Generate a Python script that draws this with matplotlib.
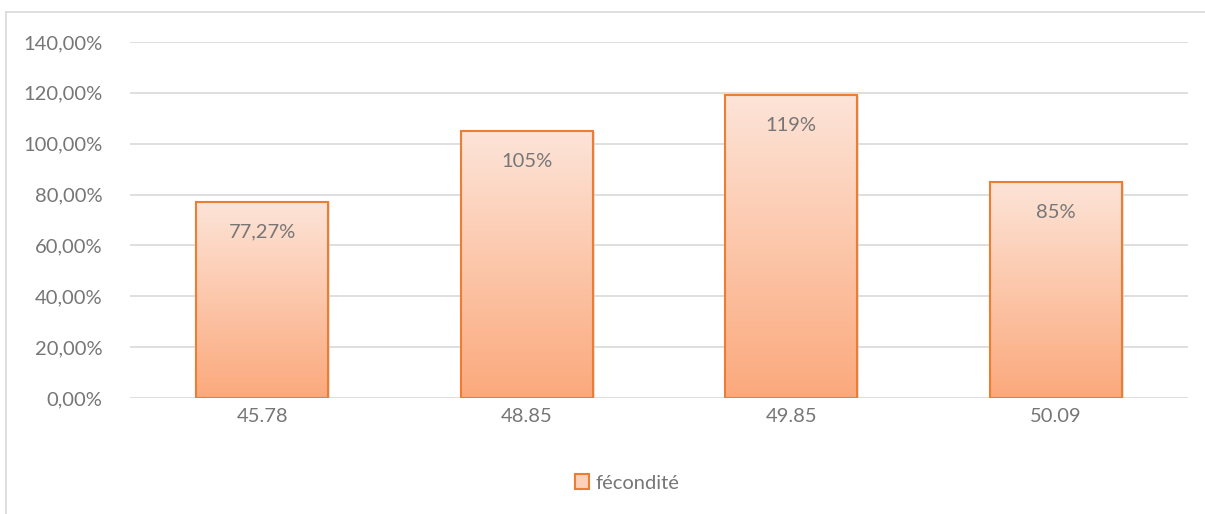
import numpy as np
import matplotlib
matplotlib.use("Agg")
from matplotlib import pyplot as plt
from matplotlib.patches import Rectangle, Patch
from matplotlib.colors import LinearSegmentedColormap
from matplotlib.ticker import FuncFormatter
from matplotlib.lines import Line2D

categories = ["45.78", "48.85", "49.85", "50.09"]
values = [0.7727, 1.05, 1.19, 0.85]
value_labels = ["77,27%", "105%", "119%", "85%"]
series_name = "fécondité"

plt.rcParams['font.family'] = ['Lato', 'DejaVu Sans']
grey = "#767676"
edge = "#ED7D31"
cmap = LinearSegmentedColormap.from_list("peach", ["#FBA97C", "#FDE4D8"])
fs = 14.5

W, H = 1205, 514
fig = plt.figure(figsize=(W / 100, H / 100), dpi=100)
ax = fig.add_axes([130 / W, 1 - 398 / H, (1188 - 130) / W, (398 - 42) / H])

x = np.arange(len(categories))
bw = 0.5
ax.set_xlim(-0.5, len(categories) - 0.5)
ax.set_ylim(0, 1.4)
ax.set_yticks(np.arange(0, 1.41, 0.2))
ax.yaxis.set_major_formatter(FuncFormatter(lambda v, p: f"{v*100:.2f}%".replace(".", ",")))
ax.grid(axis="y", color="#D9D9D9", linewidth=1.2)
ax.set_axisbelow(True)
for s in ax.spines.values():
    s.set_visible(False)
ax.tick_params(length=0, labelsize=fs, colors=grey, pad=20)
ax.set_xticks(x)
ax.set_xticklabels(categories)
ax.tick_params(axis="x", pad=7)

grad = np.linspace(0, 1, 256).reshape(-1, 1)
for xi, v, lab in zip(x, values, value_labels):
    # soft shadow
    ax.add_patch(Rectangle((xi - bw / 2 + 0.008, -0.004), bw, v, facecolor="#D0D0D0",
                           edgecolor="none", alpha=0.6, zorder=2))
    im = ax.imshow(grad, cmap=cmap, aspect="auto", origin="lower",
                   extent=(xi - bw / 2, xi + bw / 2, 0, v), zorder=3)
    r = Rectangle((xi - bw / 2, 0), bw, v, facecolor="none", edgecolor=edge,
                  linewidth=1.5, zorder=4)
    ax.add_patch(r)
    im.set_clip_path(r)
    ax.text(xi, v - 0.12, lab, ha="center", va="center", fontsize=fs, color=grey, zorder=5)

handle = Patch(facecolor="#FDD0BA", edgecolor=edge, linewidth=1.5)
fig.legend([handle], [series_name], loc="center", bbox_to_anchor=(627 / W, 1 - 483 / H),
           frameon=False, fontsize=fs, handlelength=0.7, handleheight=0.7,
           handletextpad=0.3, labelcolor=grey)

# chart border (top and left visible)
fig.add_artist(Line2D([6 / W, 1], [1 - 12 / H, 1 - 12 / H], color="#D9D9D9", linewidth=1.2))
fig.add_artist(Line2D([6 / W, 6 / W], [0, 1 - 12 / H], color="#D9D9D9", linewidth=1.2))

fig.savefig("out.png", dpi=100)
